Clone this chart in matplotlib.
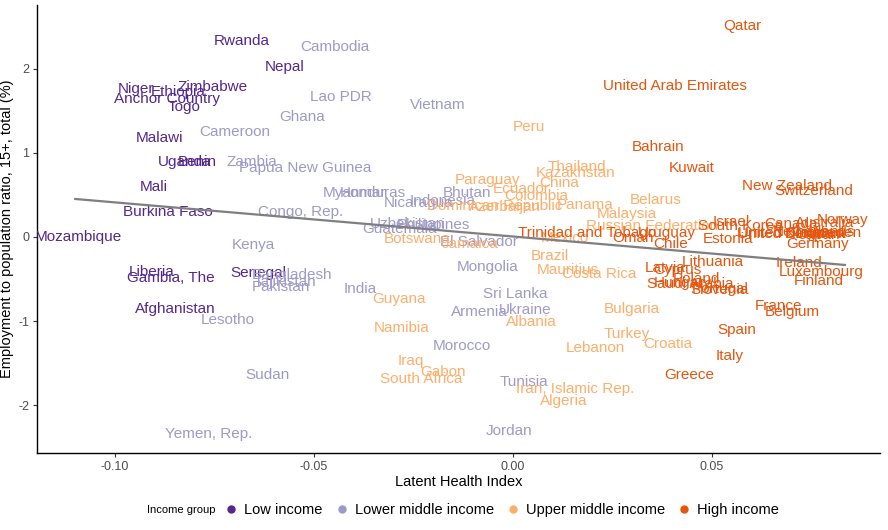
import matplotlib
matplotlib.use("Agg")
import matplotlib.pyplot as plt
from matplotlib.lines import Line2D

plt.rcParams["font.family"] = ["Liberation Sans", "DejaVu Sans"]
plt.rcParams["axes.unicode_minus"] = False

# --- data: (country, latent health index, employment ratio z) ---
low_names = ["Rwanda", "Nepal", "Niger", "Ethiopia", "Zimbabwe", "Anchor Country", "Togo",
             "Malawi", "Uganda", "Benin", "Mali", "Burkina Faso", "Mozambique", "Liberia",
             "Gambia, The", "Senegal", "Afghanistan"]
low_x = [-0.0681, -0.0573, -0.0947, -0.0842, -0.0756, -0.0869, -0.0827,
         -0.0889, -0.0824, -0.0794, -0.0902, -0.0867, -0.1092, -0.0907,
         -0.0859, -0.0641, -0.0849]
low_y = [2.333, 2.024, 1.762, 1.726, 1.786, 1.643, 1.548,
         1.179, 0.893, 0.893, 0.595, 0.298, 0.0, -0.417,
         -0.488, -0.429, -0.857]

lmid_names = ["Cambodia", "Lao PDR", "Vietnam", "Ghana", "Cameroon", "Zambia",
              "Papua New Guinea", "Myanmar", "Honduras", "Nicaragua", "Indonesia", "Bhutan",
              "Congo, Rep.", "Uzbekistan", "Philippines", "Guatemala", "El Salvador", "Kenya",
              "Bangladesh", "Tajikistan", "Pakistan", "India", "Lesotho", "Mongolia",
              "Sri Lanka", "Armenia", "Ukraine", "Morocco", "Sudan", "Tunisia",
              "Yemen, Rep.", "Jordan"]
lmid_x = [-0.0447, -0.0432, -0.0188, -0.0530, -0.0698, -0.0656,
          -0.0523, -0.0397, -0.0352, -0.0236, -0.0176, -0.0116,
          -0.0533, -0.0266, -0.0201, -0.0284, -0.0085, -0.0653,
          -0.0555, -0.0573, -0.0583, -0.0384, -0.0716, -0.0065,
          0.0005, -0.0085, 0.0030, -0.0128, -0.0616, 0.0028,
          -0.0766, -0.0010]
lmid_y = [2.262, 1.667, 1.571, 1.429, 1.250, 0.893,
          0.821, 0.524, 0.524, 0.405, 0.429, 0.524,
          0.298, 0.155, 0.143, 0.095, -0.060, -0.095,
          -0.452, -0.536, -0.595, -0.619, -0.988, -0.357,
          -0.679, -0.893, -0.869, -1.298, -1.643, -1.726,
          -2.345, -2.310]

umid_names = ["Peru", "Thailand", "Kazakhstan", "China", "Paraguay", "Ecuador", "Colombia",
              "Dominican Republic", "Azerbaijan", "Panama", "Belarus", "Malaysia",
              "Russian Federation", "Mexico", "Botswana", "Jamaica", "Brazil", "Mauritius",
              "Costa Rica", "Guyana", "Albania", "Namibia", "Lebanon", "Iraq", "Gabon",
              "South Africa", "Iran, Islamic Rep.", "Algeria", "Bulgaria", "Turkey", "Croatia"]
umid_x = [0.0040, 0.0161, 0.0156, 0.0116, -0.0065, 0.0020, 0.0058,
          -0.0045, -0.0020, 0.0181, 0.0359, 0.0286,
          0.0349, 0.0131, -0.0241, -0.0108, 0.0093, 0.0138,
          0.0216, -0.0286, 0.0045, -0.0279, 0.0206, -0.0256, -0.0176,
          -0.0231, 0.0156, 0.0128, 0.0299, 0.0286, 0.0390]
umid_y = [1.310, 0.833, 0.762, 0.643, 0.679, 0.571, 0.488,
          0.369, 0.357, 0.381, 0.440, 0.274,
          0.131, -0.012, -0.024, -0.083, -0.226, -0.393,
          -0.440, -0.738, -1.012, -1.083, -1.321, -1.476, -1.607,
          -1.690, -1.810, -1.952, -0.857, -1.155, -1.274]

high_names = ["Qatar", "United Arab Emirates", "Bahrain", "Kuwait", "New Zealand", "Switzerland",
              "Israel", "Norway", "Australia", "Canada", "South Korea", "United States",
              "Netherlands", "Sweden", "United Kingdom", "Denmark", "Japan", "Germany",
              "Estonia", "Trinidad and Tobago", "Uruguay", "Oman", "Chile", "Lithuania",
              "Latvia", "Cyprus", "Poland", "Hungary", "Saudi Arabia", "Portugal", "Slovenia",
              "Ireland", "Luxembourg", "Finland", "France", "Belgium", "Spain", "Italy", "Greece"]
high_x = [0.0575, 0.0407, 0.0364, 0.0450, 0.0688, 0.0756,
          0.0548, 0.0829, 0.0784, 0.0698, 0.0570, 0.0681,
          0.0756, 0.0807, 0.0700, 0.0760, 0.0770, 0.0764,
          0.0540, 0.0186, 0.0387, 0.0302, 0.0397, 0.0503,
          0.0382, 0.0412, 0.0462, 0.0425, 0.0445, 0.0520, 0.0520,
          0.0719, 0.0774, 0.0769, 0.0666, 0.0701, 0.0563, 0.0543, 0.0442]
high_y = [2.512, 1.798, 1.071, 0.821, 0.607, 0.548,
          0.179, 0.202, 0.167, 0.155, 0.131, 0.048,
          0.060, 0.048, 0.036, 0.040, 0.020, -0.083,
          -0.024, 0.048, 0.048, -0.012, -0.083, -0.298,
          -0.369, -0.393, -0.500, -0.548, -0.560, -0.619, -0.631,
          -0.310, -0.417, -0.524, -0.821, -0.893, -1.107, -1.417, -1.643]

# fitted linear trend (endpoints)
trend_x = [-0.110, 0.0834]
trend_y = [0.452, -0.333]

groups = ["Low income", "Lower middle income", "Upper middle income", "High income"]
colors = ["#54278F", "#9E9AC8", "#FDAE6B", "#E6550D"]
series = [(low_names, low_x, low_y), (lmid_names, lmid_x, lmid_y),
          (umid_names, umid_x, umid_y), (high_names, high_x, high_y)]

fig = plt.figure(figsize=(8.88, 5.30), dpi=100)
ax = fig.add_axes([0.0417, 0.1453, 0.9493, 0.8453])

for (names, xs, ys), col in zip(series, colors):
    for n, x, y in zip(names, xs, ys):
        ax.text(x, y, n, color=col, fontsize=11, ha="center", va="center", clip_on=True)

ax.plot(trend_x, trend_y, color="#7f7f7f", lw=1.6, zorder=3)

ax.set_xlim(-0.1196, 0.0922)
ax.set_ylim(-2.57, 2.76)
ax.set_xticks([-0.10, -0.05, 0.0, 0.05])
ax.set_xticklabels(["-0.10", "-0.05", "0.00", "0.05"])
ax.set_yticks([-2, -1, 0, 1, 2])
ax.tick_params(labelsize=9, labelcolor="#4d4d4d", length=3, color="#333333", pad=2.5)
for s in ["top", "right"]:
    ax.spines[s].set_visible(False)
for s in ["left", "bottom"]:
    ax.spines[s].set_linewidth(1.0)

ax.set_xlabel("Latent Health Index", fontsize=10.5, labelpad=2)
ax.set_ylabel("Employment to population ratio, 15+, total (%)", fontsize=10.5, labelpad=3)

handles = [Line2D([], [], marker="o", ls="", color=c, markersize=5) for c in colors]
fig.text(0.165, 0.037, "Income group", fontsize=8, va="center", ha="left")
fig.legend(handles, groups, loc="center", bbox_to_anchor=(0.564, 0.037), ncol=4,
           frameon=False, fontsize=10.5, handletextpad=0.3, columnspacing=0.7,
           handlelength=1.2)

fig.savefig("out.png", dpi=100)
